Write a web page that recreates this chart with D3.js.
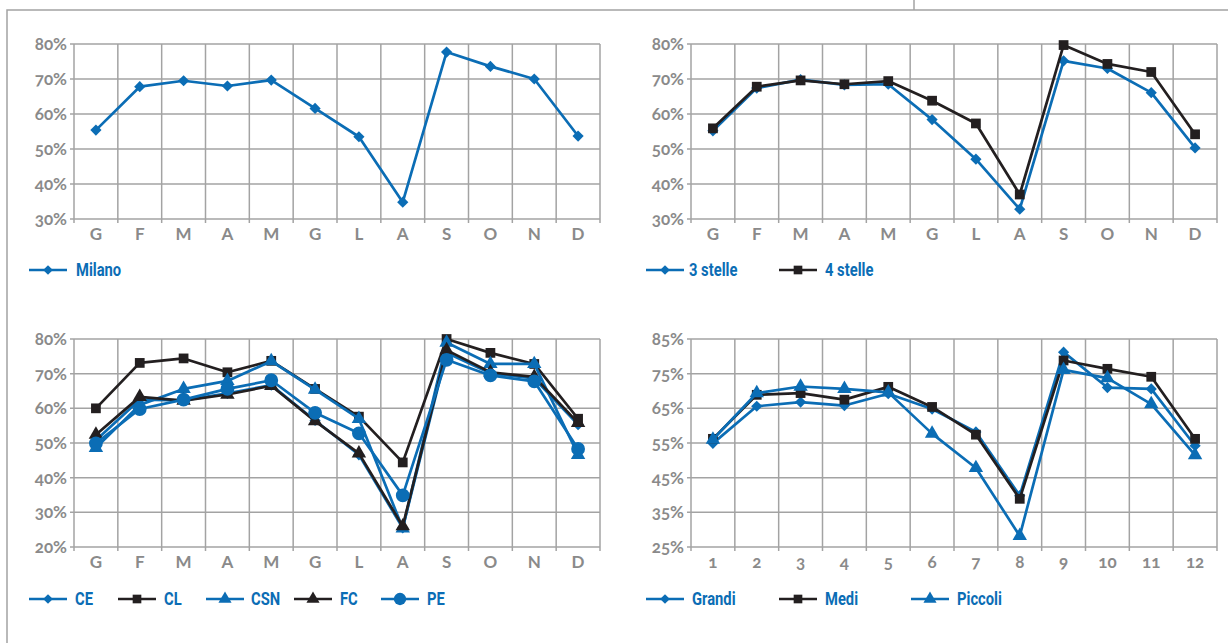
<!DOCTYPE html>
<html><head><meta charset="utf-8">
<script src="https://cdn.jsdelivr.net/npm/d3@7"></script>
<style>
body{margin:0;background:#fff;}
svg{display:block;}
.tick-label{font-family:Lato,'Open Sans',sans-serif;font-weight:700;fill:#8a8a8a;font-size:17px;font-variant-numeric:oldstyle-nums;font-feature-settings:"onum" 1;}
.legend-label{font-family:'Roboto','Liberation Sans',sans-serif;font-weight:700;fill:#0b6db5;font-size:18px;}
</style></head>
<body>
<svg id="chart" width="1228" height="643"></svg>
<script>
// ---------- DATA ----------
const months = ["G","F","M","A","M","G","L","A","S","O","N","D"];
const monthNums = ["1","2","3","4","5","6","7","8","9","10","11","12"];

const milano = [55.4,67.8,69.5,68.0,69.7,61.6,53.5,34.8,77.7,73.6,70.0,53.7];

const stelle3 = [55.2,67.4,69.8,68.3,68.5,58.4,47.1,32.8,75.2,73.0,66.1,50.3];
const stelle4 = [55.9,67.8,69.6,68.5,69.4,63.8,57.3,37.0,79.7,74.3,72.0,54.2];

const ce  = [50.8,62.5,62.3,64.3,66.7,56.5,46.6,25.5,76.0,70.1,68.6,55.3];
const cl  = [60.0,73.1,74.4,70.4,73.7,65.6,57.6,44.4,80.0,76.0,72.8,57.0];
const csn = [48.6,61.0,65.6,67.9,73.6,65.4,57.0,25.4,79.0,72.8,72.8,46.6];
const fc  = [52.4,63.3,62.2,64.0,66.5,56.3,47.0,26.0,76.8,70.4,69.1,55.8];
const pe  = [49.9,59.8,62.5,65.6,68.1,58.7,52.8,34.9,74.0,69.5,67.8,48.3];

const grandi  = [54.9,65.6,66.8,65.8,69.2,64.8,58.2,39.8,81.2,71.0,70.6,54.2];
const medi    = [56.2,68.9,69.4,67.5,71.2,65.4,57.4,38.9,78.8,76.4,74.1,56.2];
const piccoli = [56.0,69.4,71.3,70.6,69.6,57.7,47.8,28.2,76.1,73.7,66.2,51.5];

const ticksA = [30,40,50,60,70,80];
const ticksB = [20,30,40,50,60,70,80];
const ticksC = [25,35,45,55,65,75,85];

// ---------- STYLE ----------
const BLUE = "#0b6db5", BLACK = "#231f20", GRID = "#a3a3a3";

const svg = d3.select("#chart");

// frame
svg.append("path").attr("d","M7,643 L7,10 L1228,10").attr("fill","none").attr("stroke",GRID).attr("stroke-width",1.5);
svg.append("line").attr("x1",914).attr("x2",914).attr("y1",0).attr("y2",10).attr("stroke",GRID).attr("stroke-width",1.5);

const diamondType = d3.symbolDiamond2 || d3.symbolDiamond;
const symType = {diamond:diamondType, square:d3.symbolSquare, triangle:d3.symbolTriangle, circle:d3.symbolCircle};
const symSize = {diamond:80, square:95, triangle:90, circle:150};
const legSize = {diamond:60, square:75, triangle:75, circle:120};

function panel(cfg){
  const g = svg.append("g");
  const x = d3.scaleBand().domain(d3.range(12)).range([cfg.x0,cfg.x1]).padding(0);
  const y = d3.scaleLinear().domain([cfg.ticks[0],cfg.ticks[cfg.ticks.length-1]]).range([cfg.y1,cfg.y0]);
  // horizontal grid
  g.selectAll(".hg").data(cfg.ticks).enter().append("line")
    .attr("x1",cfg.x0-4).attr("x2",cfg.x1).attr("y1",d=>y(d)).attr("y2",d=>y(d))
    .attr("stroke",GRID).attr("stroke-width",1.5);
  // vertical grid
  const bounds = d3.range(13).map(i=> i<12 ? x(i) : cfg.x1);
  g.selectAll(".vg").data(bounds).enter().append("line")
    .attr("x1",d=>d).attr("x2",d=>d).attr("y1",cfg.y0).attr("y2",cfg.y1+4)
    .attr("stroke",GRID).attr("stroke-width",1.5);
  // y labels
  g.selectAll(".yl").data(cfg.ticks).enter().append("text").attr("class","tick-label")
    .attr("x",cfg.x0-7).attr("y",d=>y(d)).attr("dy","0.35em").attr("text-anchor","end")
    .text(d=>d+"%");
  // x labels
  g.selectAll(".xl").data(cfg.cats).enter().append("text").attr("class","tick-label")
    .attr("x",(d,i)=>x(i)+x.bandwidth()/2).attr("y",cfg.y1+21).attr("text-anchor","middle")
    .text(d=>d);
  const line = d3.line().x((d,i)=>x(i)+x.bandwidth()/2).y(d=>y(d));
  cfg.series.forEach(s=>{
    g.append("path").datum(s.values).attr("d",line).attr("fill","none")
      .attr("stroke",s.color).attr("stroke-width",2.7).attr("stroke-linejoin","round");
    g.selectAll(null).data(s.values).enter().append("path")
      .attr("d",d3.symbol().type(symType[s.marker]).size(symSize[s.marker])).attr("fill",s.color)
      .attr("transform",(d,i)=>`translate(${x(i)+x.bandwidth()/2},${y(d)})`);
  });
  // legend
  cfg.series.forEach((s,i)=>{
    const lx = cfg.legendX[i];
    const lg = g.append("g").attr("transform",`translate(${lx},${cfg.legendY})`);
    lg.append("line").attr("x1",0).attr("x2",38).attr("y1",0).attr("y2",0).attr("stroke",s.color).attr("stroke-width",2.7);
    lg.append("path").attr("d",d3.symbol().type(symType[s.marker]).size(legSize[s.marker]))
      .attr("fill",s.color).attr("transform","translate(19,0)");
    lg.append("text").attr("class","legend-label")
      .attr("transform",`translate(${cfg.textOff[i]},0) scale(0.82,1)`)
      .attr("dy","0.36em").text(s.name);
  });
}

panel({x0:74,x1:600,y0:44,y1:219,ticks:ticksA,cats:months,legendY:270,legendX:[29],textOff:[47],
  series:[{name:"Milano",values:milano,color:BLUE,marker:"diamond"}]});

panel({x0:691,x1:1217,y0:44,y1:219,ticks:ticksA,cats:months,legendY:270,legendX:[646,779],textOff:[43,46],
  series:[{name:"3 stelle",values:stelle3,color:BLUE,marker:"diamond"},
          {name:"4 stelle",values:stelle4,color:BLACK,marker:"square"}]});

panel({x0:74,x1:600,y0:339,y1:547,ticks:ticksB,cats:months,legendY:599,legendX:[29,118,206,294,381],textOff:[46,46,45,46,46],
  series:[{name:"CE",values:ce,color:BLUE,marker:"diamond"},
          {name:"CL",values:cl,color:BLACK,marker:"square"},
          {name:"CSN",values:csn,color:BLUE,marker:"triangle"},
          {name:"FC",values:fc,color:BLACK,marker:"triangle"},
          {name:"PE",values:pe,color:BLUE,marker:"circle"}]});

panel({x0:691,x1:1217,y0:339,y1:547,ticks:ticksC,cats:monthNums,legendY:599,legendX:[646,779,911],textOff:[46,46,46],
  series:[{name:"Grandi",values:grandi,color:BLUE,marker:"diamond"},
          {name:"Medi",values:medi,color:BLACK,marker:"square"},
          {name:"Piccoli",values:piccoli,color:BLUE,marker:"triangle"}]});
</script>
</body></html>
